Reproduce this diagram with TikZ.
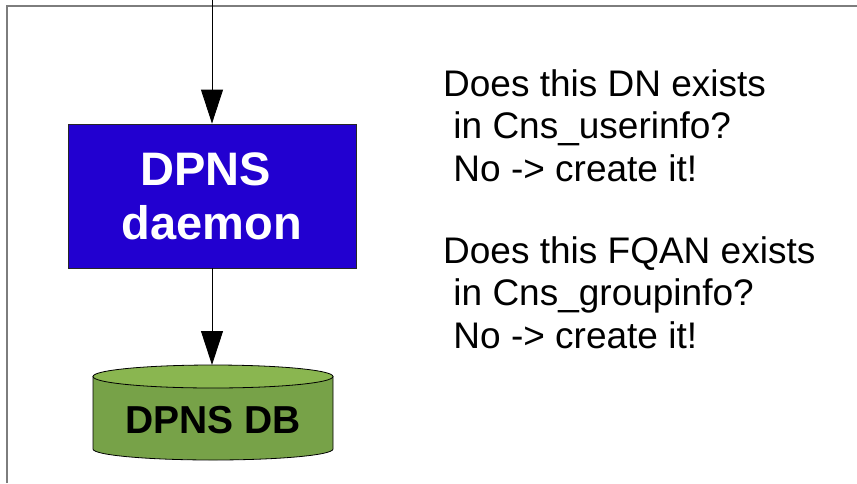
\documentclass[tikz,border=0pt]{standalone}
\usepackage{fontspec}
\setmainfont{Liberation Sans}
\usetikzlibrary{arrows.meta}
\definecolor{boxblue}{RGB}{34,0,208}
\definecolor{dbside}{RGB}{119,162,72}
\definecolor{dbtop}{RGB}{138,182,80}
\definecolor{framegray}{RGB}{125,125,125}
\begin{document}
\begin{tikzpicture}[x=1pt,y=-1pt,
  flow/.style={draw=black,line width=0.9pt,-{Triangle[length=34pt,width=22pt]}},
  daemonbox/.style={draw=black!85,line width=0.8pt,fill=boxblue,text=white,
    minimum width=288pt,minimum height=144pt,inner sep=0pt,align=center,
    font=\fontsize{47}{54}\selectfont\bfseries},
  dbtext/.style={font=\fontsize{39}{45}\selectfont\bfseries,text=black,inner sep=0pt},
  note/.style={anchor=base west,align=left,inner sep=0pt,
    font=\fontsize{37}{42.5}\selectfont}]
\useasboundingbox (0,0) rectangle (857,483);
% frame
\draw[framegray,line width=1.4pt] (7,483) -- (7,6) -- (857,6);
% daemon box
\node[daemonbox] (daemon) at (212,196) {DPNS\hbox to 0.278em{}\\daemon};
% database cylinder
\fill[dbside,draw=black,line width=0.8pt]
  (93,376.5) -- (93,449) arc[start angle=180,end angle=0,x radius=120,y radius=11]
  -- (333,376.5) -- cycle;
\draw[fill=dbtop,draw=black,line width=0.8pt] (213,376.5) ellipse[x radius=120,y radius=11.5];
\coordinate (dbtopc) at (213,365);
\node[dbtext,anchor=base] (db) at (213,433) {DPNS DB};
% connectors
\coordinate (src) at (212,0);
\draw[flow] (src) -- (daemon.north);
\draw[flow] (daemon.south) -- (daemon.south |- dbtopc);
% notes
\node[note] (q1) at (443,181) {Does this DN exists\\\ in Cns\_userinfo?\\\ No -> create it!};
\node[note] (q2) at (443,348) {Does this FQAN exists\\\ in Cns\_groupinfo?\\\ No -> create it!};
\end{tikzpicture}
\end{document}
